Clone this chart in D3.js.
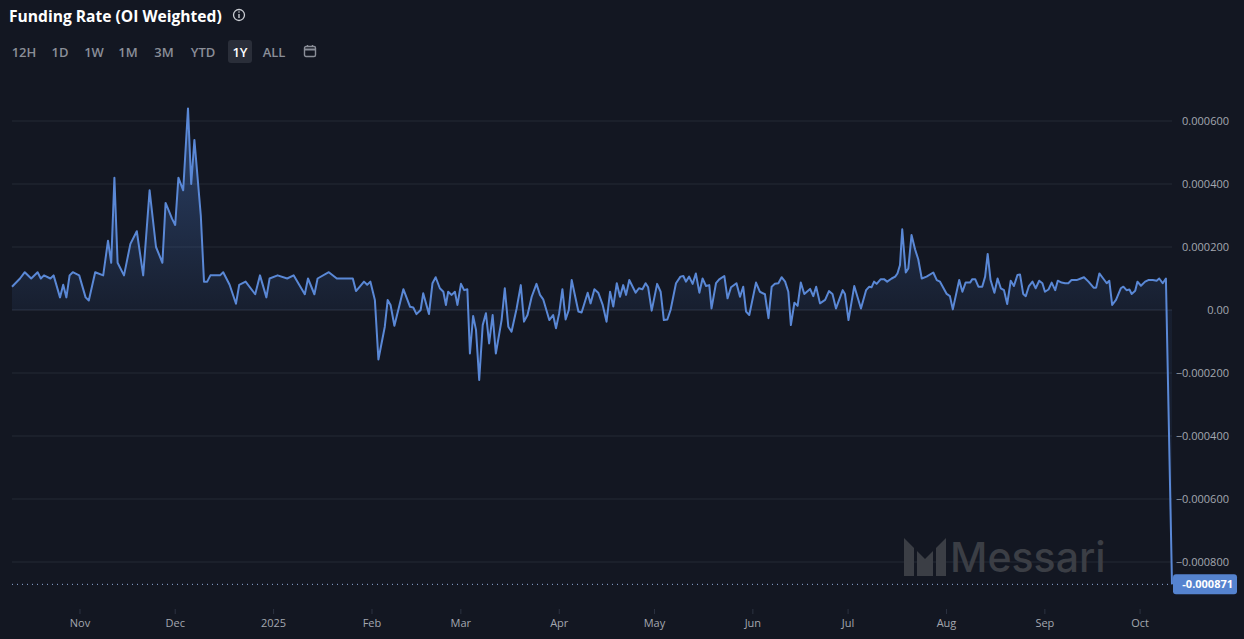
<!DOCTYPE html>
<html><head><meta charset="utf-8">
<script src="https://cdn.jsdelivr.net/npm/d3@7"></script>
<style>
html,body{margin:0;padding:0;background:#131722;overflow:hidden}
svg{display:block;font-family:"Open Sans","Noto Sans",sans-serif}
</style></head><body>
<svg id="c" width="1244" height="639"></svg>
<script>
const startDate = "2024-10-11";
const sampleUnitDays = 1.0082; // length of one unit of the `days` array, in calendar days
const startOffsetDays = -0.42;
// sample position (units since start)
const days = [0,2.5,4,6,8,9,10,12,13,15,16,17,18,19,21,23,24,26,28.5,30,31,32,33,35,37,39,41,43,45,47,48,50,51,52,53.5,55,56,57,59,60,61,62,65,66,68,70,71,73,76,77.5,79.5,80.5,83,86,88,91.5,92.5,94.5,95.5,99,101.5,104.5,106.5,107.5,110,111,112,113.4,
114.5,116.5,117.4,118.3,119.5,122.3,124.4,125.4,126.4,127.7,128.5,130.3,131.4,132.4,133.7,134.8,135.6,136.3,137.4,138.4,139.2,140.3,141.3,142.3,143.1,144.1,145,146,147.1,148.1,149.1,150.2,151.2,153,154,155.1,156.1,157.7,159,160,161.1,162.4,163.9,165,166,167.9,169.1,170,171,172,173,174,174.9,177,178,179.9,180.8,182,183.2,184.6,185.8,186.9,187.9,189,190,191,191.9,192.9,194.9,195.9,197,198,198.8,199.9,201.6,202.7,203.7,204.8,205.8,207.5,208.9,209.8,210.6,211.6,212.7,213.7,214.8,215.8,216.9,217.9,218.6,220,221,222.6,223.6,224.7,226.4,227.5,228.5,229.4,230.4,232.5,233.7,235.3,236.4,
237.4,238.4,239.5,240.5,241.6,242.6,243.4,244.5,245.5,246.5,247.6,249.4,250.4,251.3,252.5,254.1,255.3,256.4,257.5,259.6,260.3,261.4,263.2,265.3,266.9,267.9,268.6,269.4,270.2,271.5,272.5,273.5,274.9,276,276.7,277.5,278.2,279.3,280.1,281.1,282.2,283.2,284.3,285.8,287.9,289,290,292.1,293.1,294,296,297,298,299.4,300.1,301,302,303.2,304.1,304.9,305.8,307,308,309,310,311,312.1,313.1,314.2,315,316,316.8,317.8,318.9,319.9,321,322,322.8,323.9,324.9,326,326.8,328,329.1,330.1,331.1,332.7,334,335,336.4,338,338.8,339.8,341,342.1,342.9,343.8,345,346.5,347.3,348.3,349.2,349.9,351,351.7,352.8,354.1,355.1,356.5,357.7,358.5,359.6,360.6,362.5];
// funding rate in units of 1e-5
const rates = [7.4,10,12,10,12,10,11,10,11,4,8,4,11,12,11,4,3,12,11,22,15,42,15,11,21,25,11,38,20,15,34,29,27,42,38,64,40,54,30,9,9,11,11,12,8,2,8,9,5,11,4,10,11,10,11,5,10,5,10,12,10,10,10,6,9,8,9,3.2,
-15.7,-5.3,3.2,1.6,-5,6.6,1,0.8,-1.3,0,5.3,-1.3,8.5,10.4,6.9,5.8,1.6,5.8,4.8,5.8,1.6,8.3,6.3,6.6,-13.8,-1.9,-6.3,-22.2,-4.8,-1,-10.6,-1.6,-13.8,-3.2,6.9,-5.3,-6.9,0.5,7.9,-3.7,-1.6,4.2,8.3,4.8,3.4,-3.2,-1.6,-5.8,-1,6.6,-3,0,9.5,-0.5,-0.8,5.5,2.1,6.6,5.5,1.6,-3.7,5.8,1.1,8.5,4.2,7.9,4.8,9.5,5.5,6.9,6.6,8.5,7.2,-0.2,8.3,5.8,-3.2,-3,0,8.5,10.6,10.8,9,10.6,8.3,11.6,5.5,10,7.6,7.9,0.5,8.5,9.7,10.8,3.7,7.2,8.5,4.2,7.4,-0.5,-1.6,8.7,5.8,5,-2.6,
7.4,8.3,8.5,10.4,9,5.8,-4.8,2.3,1.3,8.7,5.1,6.7,4.4,7.4,2.1,3.2,6,5.1,0.5,6.3,5.1,-3.2,7.6,0.5,6.3,7.4,7.2,9,8.3,9.8,9.8,9,10,10.6,11.6,14.3,25.6,11.9,13.2,23.8,19.3,16.1,10,10.6,11.9,9.5,9,5.1,4.4,0.2,9.5,5.8,8.7,8.7,9.8,9.8,7.4,7.4,10.6,17.8,9.5,5.5,10,6.9,6.3,1.9,9.3,7.6,11.1,11.3,5.1,4.4,7.6,9,6.9,9.3,8.5,5.8,6.5,8.7,6.3,9.3,8.7,8.5,8.5,9.5,9.5,10,10.4,9,7.1,7.1,11.6,10,8.5,9.3,1.6,3.2,6.9,7.4,6.3,6.5,5.1,6.1,9,7.7,9,9.5,9.5,9.3,10,8.5,10,-87.1];
const yTicks = [0.0006,0.0004,0.0002,0,-0.0002,-0.0004,-0.0006,-0.0008];
const xTickDates = ["2024-11-01","2024-12-01","2025-01-01","2025-02-01","2025-03-01","2025-04-01","2025-05-01","2025-06-01","2025-07-01","2025-08-01","2025-09-01","2025-10-01"];
const xTickLabels = ["Nov","Dec","2025","Feb","Mar","Apr","May","Jun","Jul","Aug","Sep","Oct"];
const ranges = ["12H","1D","1W","1M","3M","YTD","1Y","ALL"];
const lastLabel = "-0.000871";

const svg = d3.select("#c");
const parse = d3.utcParse("%Y-%m-%d");
const t0 = parse(startDate);
const toDate = u => new Date(t0.getTime() + (startOffsetDays + u*sampleUnitDays)*864e5);
const data = days.map((d,i)=>({t:toDate(d), v:rates[i]*1e-5}));

const x = d3.scaleUtc().domain([toDate(0), data[data.length-1].t]).range([12,1172]);
const y = d3.scaleLinear().domain([0,0.0006]).range([310,121]);

// header
svg.append("text").attr("x",9).attr("y",22).attr("fill","#ffffff").attr("font-size",15.6).attr("font-weight",700).text("Funding Rate (OI Weighted)");
const ic = svg.append("g").attr("transform","translate(239,15)");
ic.append("circle").attr("r",5.5).attr("fill","none").attr("stroke","#c9ccd2").attr("stroke-width",1.3);
ic.append("rect").attr("x",-0.7).attr("y",-1).attr("width",1.4).attr("height",4).attr("fill","#c9ccd2");
ic.append("circle").attr("cy",-3).attr("r",0.8).attr("fill","#c9ccd2");
const bx = [24,60,94,128,164,203,240,274];
svg.append("rect").attr("x",228).attr("y",40).attr("width",24).attr("height",23).attr("rx",3).attr("fill","#2a2e39");
ranges.forEach((r,i)=>svg.append("text").attr("x",bx[i]).attr("y",57).attr("text-anchor","middle").attr("font-size",13).attr("font-weight",600).attr("fill",r==="1Y"?"#ffffff":"#8a8e98").text(r));
const cal = svg.append("g").attr("transform","translate(304,45)").attr("fill","none").attr("stroke","#8a8e98").attr("stroke-width",1.4);
cal.append("rect").attr("x",0.5).attr("y",1.5).attr("width",11).attr("height",10).attr("rx",1.5);
cal.append("line").attr("x1",0.5).attr("x2",11.5).attr("y1",4.5).attr("y2",4.5).attr("stroke-width",2);
cal.append("line").attr("x1",3.5).attr("x2",3.5).attr("y1",0).attr("y2",2);
cal.append("line").attr("x1",8.5).attr("x2",8.5).attr("y1",0).attr("y2",2);

// grid
yTicks.forEach(v=>{
  svg.append("line").attr("x1",12).attr("x2",1172).attr("y1",y(v)).attr("y2",y(v)).attr("stroke",v===0?"#2c3240":"#252a35").attr("stroke-width",1);
  svg.append("text").attr("x",1229).attr("y",y(v)+4).attr("text-anchor","end").attr("font-size",11).attr("fill","#a3a7b0").text(v===0?"0.00":d3.format(".6f")(v));
});

// watermark
const wm = svg.append("g").attr("fill","#3b3e45");
wm.append("path").attr("d","M904,538 L914,548 L914,576 L904,576 Z");
wm.append("path").attr("d","M917,551 L925,559 L933,551 L933,576 L917,576 Z");
wm.append("path").attr("d","M936,548 L946,538 L946,576 L936,576 Z");
wm.append("text").attr("x",950).attr("y",572).attr("font-size",41).attr("font-family","Inter, 'Open Sans', sans-serif").attr("font-weight",500).text("Messari");

// area + line
const defs = svg.append("defs");
const g = defs.append("linearGradient").attr("id","ga").attr("x1",0).attr("x2",0).attr("gradientUnits","userSpaceOnUse")
  .attr("y1",y(0.00064)).attr("y2",y(0));
g.append("stop").attr("offset",0).attr("stop-color","#4a78c4").attr("stop-opacity",0.45);
g.append("stop").attr("offset",1).attr("stop-color","#4a78c4").attr("stop-opacity",0.08);
svg.append("path").datum(data).attr("fill","url(#ga)")
  .attr("d",d3.area().x(d=>x(d.t)).y0(y(0)).y1(d=>y(d.v)));
svg.append("path").datum(data).attr("fill","none").attr("stroke","#5a88d6").attr("stroke-width",2).attr("stroke-linejoin","round")
  .attr("d",d3.line().x(d=>x(d.t)).y(d=>y(d.v)));

// last value
const last = data[data.length-1];
svg.append("line").attr("x1",12).attr("x2",x(last.t)).attr("y1",y(last.v)).attr("y2",y(last.v)).attr("stroke","#8fa9d6").attr("stroke-width",1).attr("stroke-dasharray","1,4");
svg.append("rect").attr("x",1173).attr("y",y(last.v)-10).attr("width",64).attr("height",20).attr("rx",3).attr("fill","#5583cf");
svg.append("text").attr("x",1233).attr("y",y(last.v)+4).attr("text-anchor","end").attr("font-size",11).attr("font-weight",700).attr("fill","#ffffff").text(lastLabel);

// x axis
xTickDates.forEach((d,i)=>{
  const px = x(parse(d));
  svg.append("line").attr("x1",px).attr("x2",px).attr("y1",609).attr("y2",614).attr("stroke","#2c3240");
  svg.append("text").attr("x",px).attr("y",627).attr("text-anchor","middle").attr("font-size",11).attr("fill","#a3a7b0").text(xTickLabels[i]);
});
</script></body></html>
